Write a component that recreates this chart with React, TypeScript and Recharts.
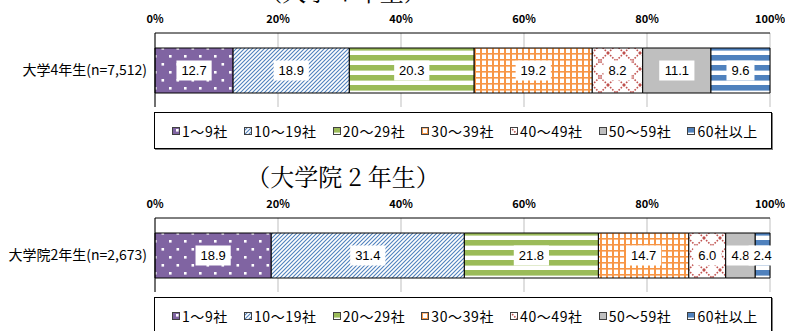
import { BarChart, Bar, XAxis, YAxis, CartesianGrid, LabelList } from 'recharts'

// 企業数の区分（凡例）
const categories = ['1～9社', '10～19社', '20～29社', '30～39社', '40～49社', '50～59社', '60社以上']

// 大学4年生
const undergradTitle = '（大学 4 年生）'
const undergradLabel = '大学4年生(n=7,512)'
const undergradValues = [12.7, 18.9, 20.3, 19.2, 8.2, 11.1, 9.6]

// 大学院2年生
const gradTitle = '（大学院 2 年生）'
const gradLabel = '大学院2年生(n=2,673)'
const gradValues = [18.9, 31.4, 21.8, 14.7, 6.0, 4.8, 2.4]

const xTicks = [0, 20, 40, 60, 80, 100]

const JP_FONT = '"Noto Sans CJK JP", "Noto Sans", sans-serif'
const NUM_FONT = '"Liberation Sans", Arial, sans-serif'

function Patterns({ prefix }: { prefix: string }) {
  return (
    <defs>
      {/* 紫 + 白ドット */}
      <pattern id={`${prefix}0`} width="15" height="16" patternUnits="userSpaceOnUse">
        <rect width="15" height="16" fill="#8064A2" />
        <rect x="4" y="2" width="2.6" height="2.6" fill="#fff" />
        <rect x="11.5" y="10" width="2.6" height="2.6" fill="#fff" />
      </pattern>
      {/* 青の斜線 */}
      <pattern id={`${prefix}1`} width="4" height="4" patternUnits="userSpaceOnUse">
        <rect width="4" height="4" fill="#fff" />
        <path d="M-1,1 L1,-1 M0,4 L4,0 M3,5 L5,3" stroke="#4F81BD" strokeWidth="1.1" />
      </pattern>
      {/* 緑の横縞 */}
      <pattern id={`${prefix}2`} width="10" height="10" patternUnits="userSpaceOnUse">
        <rect width="10" height="10" fill="#fff" />
        <rect width="10" height="5.6" fill="#9BBB59" />
      </pattern>
      {/* オレンジの格子 */}
      <pattern id={`${prefix}3`} width="6" height="6" patternUnits="userSpaceOnUse">
        <rect width="6" height="6" fill="#fff" />
        <rect width="2" height="6" fill="#F79646" />
        <rect width="6" height="1.6" fill="#F79646" />
      </pattern>
      {/* 赤の点線菱形 */}
      <pattern id={`${prefix}4`} width="16" height="16" patternUnits="userSpaceOnUse">
        <rect width="16" height="16" fill="#fff" />
        <path d="M0,0 L16,16 M16,0 L0,16" stroke="#C0504D" strokeWidth="1.6" strokeDasharray="1.6 1.4" />
      </pattern>
      {/* グレー */}
      <pattern id={`${prefix}5`} width="4" height="4" patternUnits="userSpaceOnUse">
        <rect width="4" height="4" fill="#BFBFBF" />
      </pattern>
      {/* 青の横縞 */}
      <pattern id={`${prefix}6`} width="10" height="10" patternUnits="userSpaceOnUse">
        <rect width="10" height="10" fill="#fff" />
        <rect width="10" height="5.6" fill="#4F81BD" />
      </pattern>
    </defs>
  )
}

function textWidth(s: string) {
  let w = 0
  for (const c of s) w += c === '.' ? 3.6 : 7.2
  return w
}

function BoxLabel(props: any) {
  const { x, y, width, height, value } = props
  const text = Number(value).toFixed(1)
  const w = textWidth(text) + 10
  const cx = x + width / 2
  const cy = y + height / 2
  return (
    <g>
      <rect x={cx - w / 2} y={cy - 10} width={w} height={20} fill="#fff" />
      <text x={cx} y={cy} dy={4.7} textAnchor="middle" fontSize={13} fontFamily={NUM_FONT} fill="#000">
        {text}
      </text>
    </g>
  )
}

function CatTick(props: any) {
  const { x, y, payload } = props
  return (
    <text x={x} y={y} dy={5} textAnchor="end" fontSize={14} fontFamily={JP_FONT} fill="#000">
      {payload.value}
    </text>
  )
}

function Panel({
  top,
  title,
  label,
  values,
  prefix,
}: {
  top: number
  title: string
  label: string
  values: number[]
  prefix: string
}) {
  const row: Record<string, string | number> = { name: label }
  values.forEach((v, i) => (row[`v${i}`] = v))

  return (
    <div style={{ position: 'absolute', left: 0, top, width: 785, height: 185 }}>
      <div
        style={{
          position: 'absolute',
          left: 0,
          top: 1,
          width: 686,
          textAlign: 'center',
          fontSize: 24,
          lineHeight: '30px',
          fontFamily: '"Noto Serif CJK JP", serif',
          color: '#000',
          whiteSpace: 'pre',
        }}
      >
        {title}
      </div>

      <div style={{ position: 'absolute', left: 0, top: 30 }}>
        <BarChart
          layout="vertical"
          width={785}
          height={102}
          data={[row]}
          margin={{ top: 0, right: 15, bottom: 0, left: 0 }}
          barSize={45}
        >
          <Patterns prefix={prefix} />
          <CartesianGrid horizontal={false} stroke="#BFBFBF" />
          <XAxis
            type="number"
            orientation="top"
            domain={[0, 100]}
            ticks={xTicks}
            tickFormatter={(v: number) => `${v}%`}
            axisLine={{ stroke: '#000' }}
            tickLine={false}
            tickMargin={4}
            height={28}
            tick={{ fontSize: 11, fill: '#000', fontFamily: JP_FONT, fontWeight: 700 }}
          />
          <YAxis
            type="category"
            dataKey="name"
            width={155}
            axisLine={{ stroke: '#000' }}
            tickLine={false}
            tick={<CatTick />}
          />
          {categories.map((c, i) => (
            <Bar
              key={c}
              name={c}
              dataKey={`v${i}`}
              stackId="a"
              fill={`url(#${prefix}${i})`}
              stroke="#000"
              strokeWidth={1}
              isAnimationActive={false}
            >
              <LabelList dataKey={`v${i}`} content={<BoxLabel />} />
            </Bar>
          ))}
        </BarChart>
      </div>

      <div
        style={{
          position: 'absolute',
          left: 154,
          top: 137,
          width: 618,
          height: 37,
          border: '1px solid #000',
          boxShadow: '1px 1px 0 #7f7f7f',
          background: '#fff',
          display: 'flex',
          alignItems: 'center',
          paddingLeft: 17,
          boxSizing: 'border-box',
          gap: 16,
          fontFamily: JP_FONT,
          fontSize: 14,
          letterSpacing: 0.6,
          color: '#000',
        }}
      >
        {categories.map((c, i) => (
          <div key={c} style={{ display: 'flex', alignItems: 'center', gap: 2 }}>
            <svg width={8} height={8}>
              <rect x={0.5} y={0.5} width={7} height={7} fill={`url(#${prefix}${i})`} stroke="#404040" />
            </svg>
            <span>{c}</span>
          </div>
        ))}
      </div>
    </div>
  )
}

export default function App() {
  return (
    <div
      style={{
        position: 'absolute',
        left: 0,
        top: 0,
        width: 785,
        height: 331,
        overflow: 'hidden',
        background: '#fff',
      }}
    >
      <Panel top={-25} title={undergradTitle} label={undergradLabel} values={undergradValues} prefix="u" />
      <Panel top={160} title={gradTitle} label={gradLabel} values={gradValues} prefix="g" />
    </div>
  )
}
